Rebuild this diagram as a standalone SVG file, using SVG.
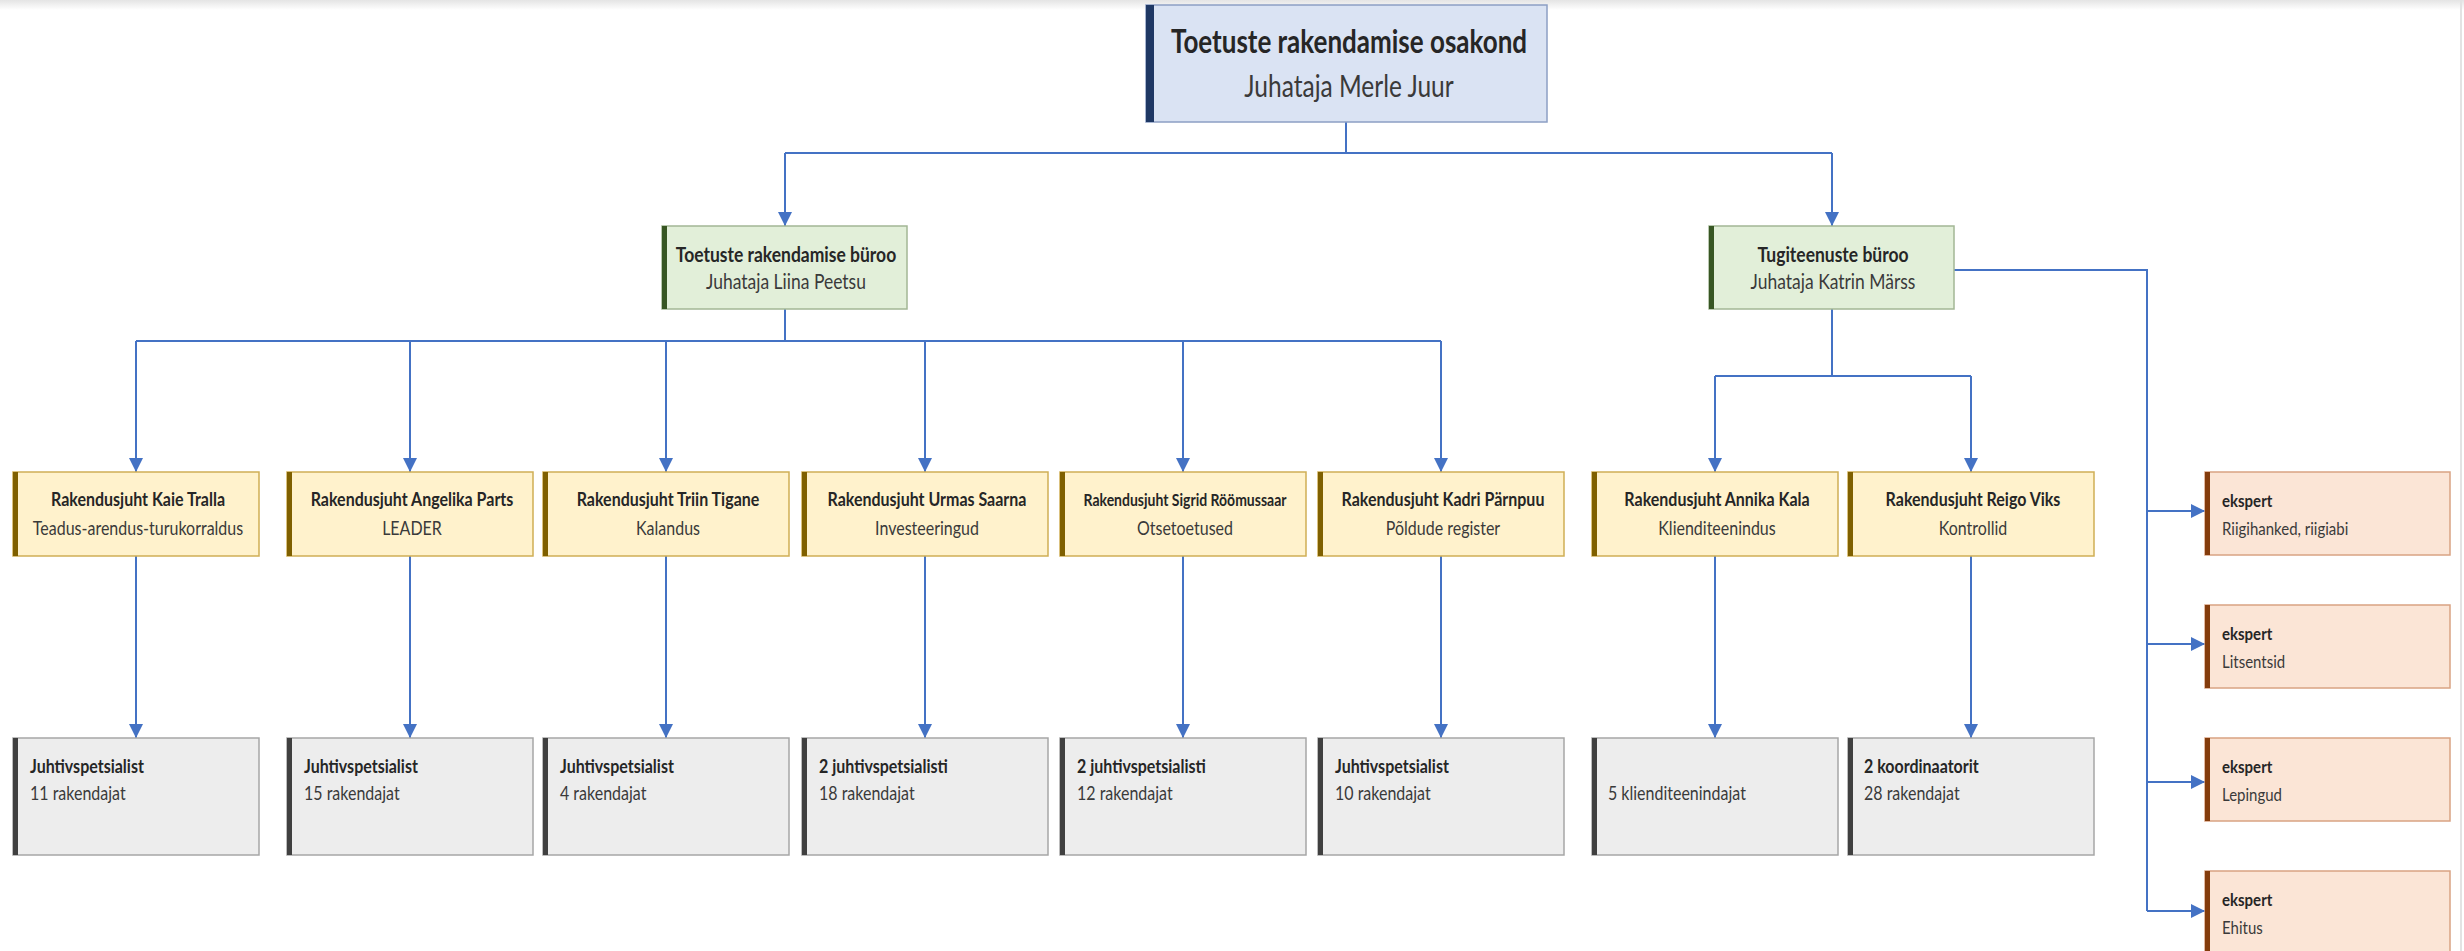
<svg xmlns="http://www.w3.org/2000/svg" width="2464" height="951" viewBox="0 0 2464 951">
<defs>
<linearGradient id="topShade" x1="0" y1="0" x2="0" y2="1">
<stop offset="0" stop-color="#e4e4e4"/>
<stop offset="1" stop-color="#ffffff"/>
</linearGradient>
<marker id="arr" markerUnits="userSpaceOnUse" viewBox="0 0 14 14" refX="14" refY="7" markerWidth="14" markerHeight="14" orient="auto">
<path d="M0,0 L14,7 L0,14 z" fill="#4472c4"/>
</marker>
<style>
.bg{fill:#ffffff}
.conn{fill:none;stroke:#4472c4;stroke-width:2}
.top{fill:#dae3f3;stroke:#8c9fc4;stroke-width:1.5}
.topbar{fill:#1f3864}
.grn{fill:#e2efd9;stroke:#a3b795;stroke-width:1.5}
.grnbar{fill:#375623}
.yel{fill:#fff2cc;stroke:#cfae55;stroke-width:1.5}
.yelbar{fill:#7f6000}
.gry{fill:#ededed;stroke:#a6a6a6;stroke-width:1.5}
.grybar{fill:#404040}
.exp{fill:#fbe5d6;stroke:#d9a383;stroke-width:1.5}
.expbar{fill:#843c0c}
text{font-family:Lato,"Open Sans","Liberation Sans",sans-serif}
.b{font-weight:bold;fill:#262626}
.r{font-weight:normal;fill:#3a3a3a}
.c{text-anchor:middle}
.t1{font-size:26px}
.t2{font-size:24.5px}
.m1{font-size:17.5px}
.m2{font-size:17.5px}
.s1{font-size:16px}
.s2{font-size:16px}
.s1n{font-size:14px}
.e1{font-size:15px}
.e2{font-size:15px}
</style>
</defs>
<rect class="bg" x="0" y="0" width="2464" height="951"/>
<rect x="0" y="0" width="2464" height="10" fill="url(#topShade)"/>
<line x1="2461" y1="0" x2="2461" y2="951" stroke="#e3e3e3" stroke-width="2"/>

<g id="connectors">
<path class="conn" d="M1346,122 V153"/>
<path class="conn" d="M785,153 H1832"/>
<path class="conn" d="M785,153 V226" marker-end="url(#arr)"/>
<path class="conn" d="M1832,153 V226" marker-end="url(#arr)"/>
<path class="conn" d="M785,309 V341"/>
<path class="conn" d="M136,341 H1441"/>
<path class="conn" d="M136,341 V472" marker-end="url(#arr)"/>
<path class="conn" d="M410,341 V472" marker-end="url(#arr)"/>
<path class="conn" d="M666,341 V472" marker-end="url(#arr)"/>
<path class="conn" d="M925,341 V472" marker-end="url(#arr)"/>
<path class="conn" d="M1183,341 V472" marker-end="url(#arr)"/>
<path class="conn" d="M1441,341 V472" marker-end="url(#arr)"/>
<path class="conn" d="M1832,309 V376"/>
<path class="conn" d="M1715,376 H1971"/>
<path class="conn" d="M1715,376 V472" marker-end="url(#arr)"/>
<path class="conn" d="M1971,376 V472" marker-end="url(#arr)"/>
<path class="conn" d="M136,556 V738" marker-end="url(#arr)"/>
<path class="conn" d="M410,556 V738" marker-end="url(#arr)"/>
<path class="conn" d="M666,556 V738" marker-end="url(#arr)"/>
<path class="conn" d="M925,556 V738" marker-end="url(#arr)"/>
<path class="conn" d="M1183,556 V738" marker-end="url(#arr)"/>
<path class="conn" d="M1441,556 V738" marker-end="url(#arr)"/>
<path class="conn" d="M1715,556 V738" marker-end="url(#arr)"/>
<path class="conn" d="M1971,556 V738" marker-end="url(#arr)"/>
<path class="conn" d="M1954,270 H2147 V911"/>
<path class="conn" d="M2147,511 H2205" marker-end="url(#arr)"/>
<path class="conn" d="M2147,644 H2205" marker-end="url(#arr)"/>
<path class="conn" d="M2147,782 H2205" marker-end="url(#arr)"/>
<path class="conn" d="M2147,911 H2205" marker-end="url(#arr)"/>
</g>

<g id="osakond">
<rect class="top" x="1146" y="5" width="401" height="117"/>
<rect class="topbar" x="1146" y="5" width="8" height="117"/>
<text class="b c t1" transform="translate(1349,53) scale(1,1.27)">Toetuste rakendamise osakond</text>
<text class="r c t2" transform="translate(1349,97) scale(1,1.25)">Juhataja Merle Juur</text>
</g>

<g id="buroo-toetuste">
<rect class="grn" x="662" y="226" width="245" height="83"/>
<rect class="grnbar" x="662" y="226" width="5" height="83"/>
<text class="b c m1" transform="translate(786,262) scale(1,1.2)">Toetuste rakendamise büroo</text>
<text class="r c m2" transform="translate(786,289) scale(1,1.2)">Juhataja Liina Peetsu</text>
</g>

<g id="buroo-tugi">
<rect class="grn" x="1709" y="226" width="245" height="83"/>
<rect class="grnbar" x="1709" y="226" width="5" height="83"/>
<text class="b c m1" transform="translate(1833,262) scale(1,1.2)">Tugiteenuste büroo</text>
<text class="r c m2" transform="translate(1833,289) scale(1,1.2)">Juhataja Katrin Märss</text>
</g>

<g id="rj-kaie">
<rect class="yel" x="13" y="472" width="246" height="84"/>
<rect class="yelbar" x="13" y="472" width="5" height="84"/>
<text class="b c s1" transform="translate(138,506) scale(1,1.15)">Rakendusjuht Kaie Tralla</text>
<text class="r c s2" transform="translate(138,535) scale(1,1.15)">Teadus-arendus-turukorraldus</text>
</g>
<g id="rj-angelika">
<rect class="yel" x="287" y="472" width="246" height="84"/>
<rect class="yelbar" x="287" y="472" width="5" height="84"/>
<text class="b c s1" transform="translate(412,506) scale(1,1.15)">Rakendusjuht Angelika Parts</text>
<text class="r c s2" transform="translate(412,535) scale(1,1.15)">LEADER</text>
</g>
<g id="rj-triin">
<rect class="yel" x="543" y="472" width="246" height="84"/>
<rect class="yelbar" x="543" y="472" width="5" height="84"/>
<text class="b c s1" transform="translate(668,506) scale(1,1.15)">Rakendusjuht Triin Tigane</text>
<text class="r c s2" transform="translate(668,535) scale(1,1.15)">Kalandus</text>
</g>
<g id="rj-urmas">
<rect class="yel" x="802" y="472" width="246" height="84"/>
<rect class="yelbar" x="802" y="472" width="5" height="84"/>
<text class="b c s1" transform="translate(927,506) scale(1,1.15)">Rakendusjuht Urmas Saarna</text>
<text class="r c s2" transform="translate(927,535) scale(1,1.15)">Investeeringud</text>
</g>
<g id="rj-sigrid">
<rect class="yel" x="1060" y="472" width="246" height="84"/>
<rect class="yelbar" x="1060" y="472" width="5" height="84"/>
<text class="b c s1n" transform="translate(1185,506) scale(1,1.15)">Rakendusjuht Sigrid Röömussaar</text>
<text class="r c s2" transform="translate(1185,535) scale(1,1.15)">Otsetoetused</text>
</g>
<g id="rj-kadri">
<rect class="yel" x="1318" y="472" width="246" height="84"/>
<rect class="yelbar" x="1318" y="472" width="5" height="84"/>
<text class="b c s1" transform="translate(1443,506) scale(1,1.15)">Rakendusjuht Kadri Pärnpuu</text>
<text class="r c s2" transform="translate(1443,535) scale(1,1.15)">Põldude register</text>
</g>
<g id="rj-annika">
<rect class="yel" x="1592" y="472" width="246" height="84"/>
<rect class="yelbar" x="1592" y="472" width="5" height="84"/>
<text class="b c s1" transform="translate(1717,506) scale(1,1.15)">Rakendusjuht Annika Kala</text>
<text class="r c s2" transform="translate(1717,535) scale(1,1.15)">Klienditeenindus</text>
</g>
<g id="rj-reigo">
<rect class="yel" x="1848" y="472" width="246" height="84"/>
<rect class="yelbar" x="1848" y="472" width="5" height="84"/>
<text class="b c s1" transform="translate(1973,506) scale(1,1.15)">Rakendusjuht Reigo Viks</text>
<text class="r c s2" transform="translate(1973,535) scale(1,1.15)">Kontrollid</text>
</g>

<g id="staff-kaie">
<rect class="gry" x="13" y="738" width="246" height="117"/>
<rect class="grybar" x="13" y="738" width="5" height="117"/>
<text class="b s1" transform="translate(30,773) scale(1,1.15)">Juhtivspetsialist</text>
<text class="r s2" transform="translate(30,800) scale(1,1.15)">11 rakendajat</text>
</g>
<g id="staff-angelika">
<rect class="gry" x="287" y="738" width="246" height="117"/>
<rect class="grybar" x="287" y="738" width="5" height="117"/>
<text class="b s1" transform="translate(304,773) scale(1,1.15)">Juhtivspetsialist</text>
<text class="r s2" transform="translate(304,800) scale(1,1.15)">15 rakendajat</text>
</g>
<g id="staff-triin">
<rect class="gry" x="543" y="738" width="246" height="117"/>
<rect class="grybar" x="543" y="738" width="5" height="117"/>
<text class="b s1" transform="translate(560,773) scale(1,1.15)">Juhtivspetsialist</text>
<text class="r s2" transform="translate(560,800) scale(1,1.15)">4 rakendajat</text>
</g>
<g id="staff-urmas">
<rect class="gry" x="802" y="738" width="246" height="117"/>
<rect class="grybar" x="802" y="738" width="5" height="117"/>
<text class="b s1" transform="translate(819,773) scale(1,1.15)">2 juhtivspetsialisti</text>
<text class="r s2" transform="translate(819,800) scale(1,1.15)">18 rakendajat</text>
</g>
<g id="staff-sigrid">
<rect class="gry" x="1060" y="738" width="246" height="117"/>
<rect class="grybar" x="1060" y="738" width="5" height="117"/>
<text class="b s1" transform="translate(1077,773) scale(1,1.15)">2 juhtivspetsialisti</text>
<text class="r s2" transform="translate(1077,800) scale(1,1.15)">12 rakendajat</text>
</g>
<g id="staff-kadri">
<rect class="gry" x="1318" y="738" width="246" height="117"/>
<rect class="grybar" x="1318" y="738" width="5" height="117"/>
<text class="b s1" transform="translate(1335,773) scale(1,1.15)">Juhtivspetsialist</text>
<text class="r s2" transform="translate(1335,800) scale(1,1.15)">10 rakendajat</text>
</g>
<g id="staff-annika">
<rect class="gry" x="1592" y="738" width="246" height="117"/>
<rect class="grybar" x="1592" y="738" width="5" height="117"/>
<text class="r s2" transform="translate(1608,800) scale(1,1.15)">5 klienditeenindajat</text>
</g>
<g id="staff-reigo">
<rect class="gry" x="1848" y="738" width="246" height="117"/>
<rect class="grybar" x="1848" y="738" width="5" height="117"/>
<text class="b s1" transform="translate(1864,773) scale(1,1.15)">2 koordinaatorit</text>
<text class="r s2" transform="translate(1864,800) scale(1,1.15)">28 rakendajat</text>
</g>

<g id="ekspert-riigihanked">
<rect class="exp" x="2205" y="472" width="245" height="83"/>
<rect class="expbar" x="2205" y="472" width="5" height="83"/>
<text class="b e1" transform="translate(2222,507) scale(1,1.15)">ekspert</text>
<text class="r e2" transform="translate(2222,535) scale(1,1.15)">Riigihanked, riigiabi</text>
</g>
<g id="ekspert-litsentsid">
<rect class="exp" x="2205" y="605" width="245" height="83"/>
<rect class="expbar" x="2205" y="605" width="5" height="83"/>
<text class="b e1" transform="translate(2222,640) scale(1,1.15)">ekspert</text>
<text class="r e2" transform="translate(2222,668) scale(1,1.15)">Litsentsid</text>
</g>
<g id="ekspert-lepingud">
<rect class="exp" x="2205" y="738" width="245" height="83"/>
<rect class="expbar" x="2205" y="738" width="5" height="83"/>
<text class="b e1" transform="translate(2222,773) scale(1,1.15)">ekspert</text>
<text class="r e2" transform="translate(2222,801) scale(1,1.15)">Lepingud</text>
</g>
<g id="ekspert-ehitus">
<rect class="exp" x="2205" y="871" width="245" height="90"/>
<rect class="expbar" x="2205" y="871" width="5" height="90"/>
<text class="b e1" transform="translate(2222,906) scale(1,1.15)">ekspert</text>
<text class="r e2" transform="translate(2222,934) scale(1,1.15)">Ehitus</text>
</g>
</svg>
